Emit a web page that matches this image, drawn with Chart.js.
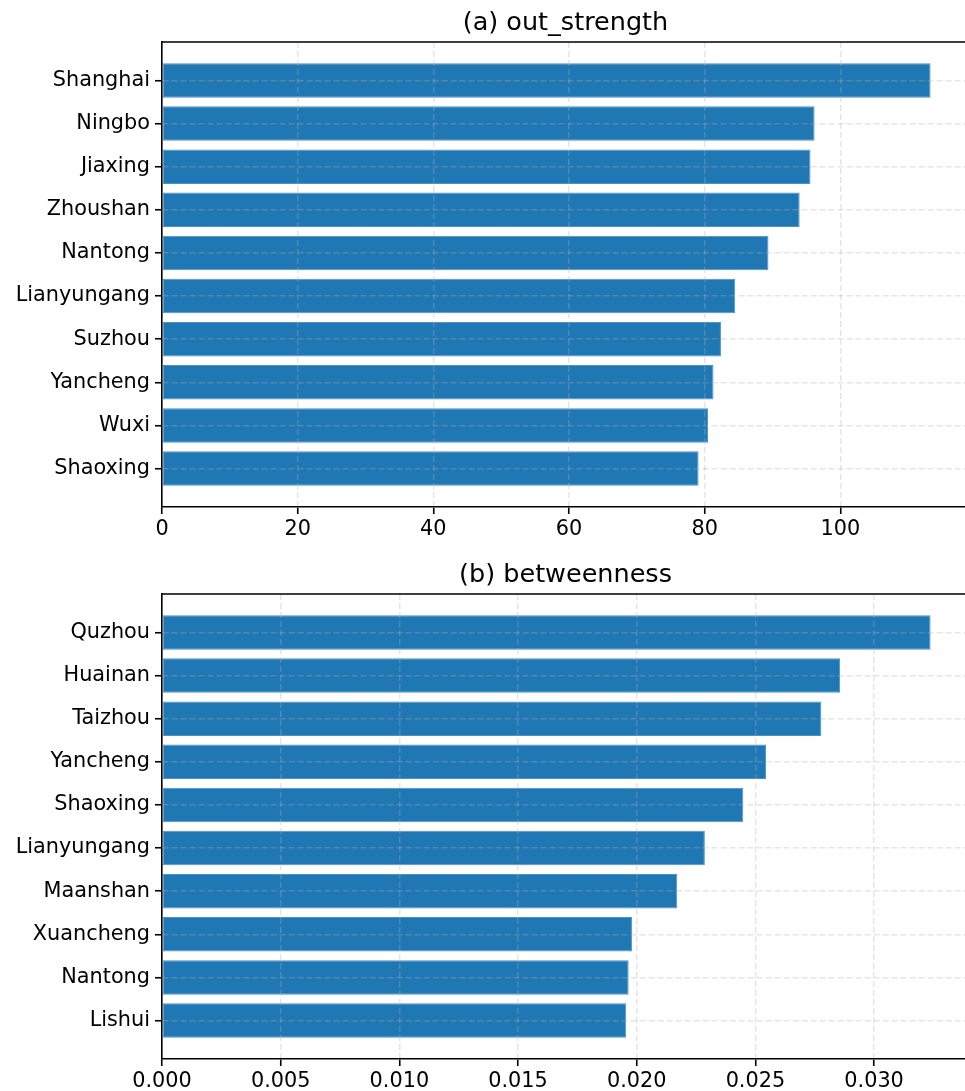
<!DOCTYPE html>
<html>
<head>
<meta charset="utf-8">
<script src="https://cdn.jsdelivr.net/npm/chart.js@4.4.1/dist/chart.umd.min.js"></script>
<style>
  html, body { margin: 0; padding: 0; background: #fff; overflow: hidden; }
  .panel { position: absolute; left: 0; width: 975px; height: 545px; }
</style>
</head>
<body>
<div class="panel" style="top:0"><canvas id="chartA" width="975" height="545"></canvas></div>
<div class="panel" style="top:552px"><canvas id="chartB" width="975" height="545"></canvas></div>
<script>
// (a) top cities by out_strength
const citiesA = ['Shanghai', 'Ningbo', 'Jiaxing', 'Zhoushan', 'Nantong', 'Lianyungang', 'Suzhou', 'Yancheng', 'Wuxi', 'Shaoxing'];
const valuesA = [113.3, 96.2, 95.6, 94.0, 89.4, 84.5, 82.4, 81.3, 80.5, 79.1];
const ticksA = [0, 20, 40, 60, 80, 100];

// (b) top cities by betweenness
const citiesB = ['Quzhou', 'Huainan', 'Taizhou', 'Yancheng', 'Shaoxing', 'Lianyungang', 'Maanshan', 'Xuancheng', 'Nantong', 'Lishui'];
const valuesB = [0.03238, 0.02857, 0.02778, 0.02545, 0.02449, 0.02287, 0.02171, 0.01981, 0.01966, 0.01956];
const ticksB = [0.000, 0.005, 0.010, 0.015, 0.020, 0.025, 0.030];

const FONT = 'DejaVu Sans';
const BAR_H = 0.8;

// top and right spines (Chart.js only draws the axis-side borders)
const spines = {
  id: 'spines',
  afterDraw(chart) {
    const { ctx, chartArea: a } = chart;
    ctx.save();
    ctx.strokeStyle = '#000';
    ctx.lineWidth = 1.6;
    ctx.beginPath();
    ctx.moveTo(a.left - 0.8, a.top);
    ctx.lineTo(a.right, a.top);
    ctx.lineTo(a.right, a.bottom);
    ctx.stroke();
    ctx.restore();
  }
};

function makeChart(id, title, cities, values, xTicks, fmt) {
  const ctx = document.getElementById(id).getContext('2d');
  const n = cities.length;
  // matplotlib-like 5% margins around the bars
  const lo = -BAR_H / 2, hi = n - 1 + BAR_H / 2;
  const ypad = (hi - lo) * 0.05;
  const xmax = Math.max(...values) * 1.05;

  // grid on top of the bars (z > 0), dashed and faint
  const gridStyle = {
    color: 'rgba(176,176,176,0.32)',
    lineWidth: 1.5,
    offset: false,
    z: 1,
    drawTicks: true,
    tickLength: 7,
    tickColor: '#000',
    tickWidth: 1.6,
    tickBorderDash: []
  };
  const borderStyle = { display: true, color: '#000', width: 1.6, dash: [6, 3], z: 2 };

  return new Chart(ctx, {
    type: 'bar',
    data: {
      datasets: [{
        data: values.map((v, i) => ({ x: v, y: i })),
        backgroundColor: '#1f77b4',
        borderColor: '#4b93c6',
        borderWidth: 1,
        borderSkipped: false,
        categoryPercentage: 1,
        barPercentage: BAR_H
      }]
    },
    options: {
      indexAxis: 'y',
      responsive: false,
      animation: false,
      devicePixelRatio: 1,
      layout: { padding: { left: 0, right: 6, top: 0, bottom: 0 } },
      scales: {
        x: {
          type: 'linear',
          position: 'bottom',
          min: 0,
          max: xmax,
          offset: false,
          afterBuildTicks: s => { s.ticks = xTicks.map(v => ({ value: v })); },
          afterFit: s => { s.height = 38; },
          grid: gridStyle,
          border: borderStyle,
          ticks: {
            padding: 3,
            color: '#000',
            font: { family: FONT, size: 20.8 },
            maxRotation: 0,
            callback: v => fmt(v)
          }
        },
        y: {
          type: 'linear',
          position: 'left',
          reverse: true,
          min: lo - ypad,
          max: hi + ypad,
          offset: false,
          afterBuildTicks: s => { s.ticks = cities.map((c, i) => ({ value: i })); },
          afterFit: s => { s.width = 162; },
          grid: gridStyle,
          border: borderStyle,
          ticks: {
            padding: 5,
            color: '#000',
            font: { family: FONT, size: 20.8 },
            callback: v => cities[v]
          }
        }
      },
      plugins: {
        legend: { display: false },
        tooltip: { enabled: false },
        title: {
          display: true,
          text: title,
          fullSize: false,
          color: '#000',
          font: { family: FONT, size: 25.5, weight: 'normal' },
          padding: { top: 8, bottom: 3.4 }
        }
      }
    },
    plugins: [spines]
  });
}

makeChart('chartA', '(a) out_strength', citiesA, valuesA, ticksA, v => String(Math.round(v)));
makeChart('chartB', '(b) betweenness', citiesB, valuesB, ticksB, v => v.toFixed(3));
</script>
</body>
</html>
